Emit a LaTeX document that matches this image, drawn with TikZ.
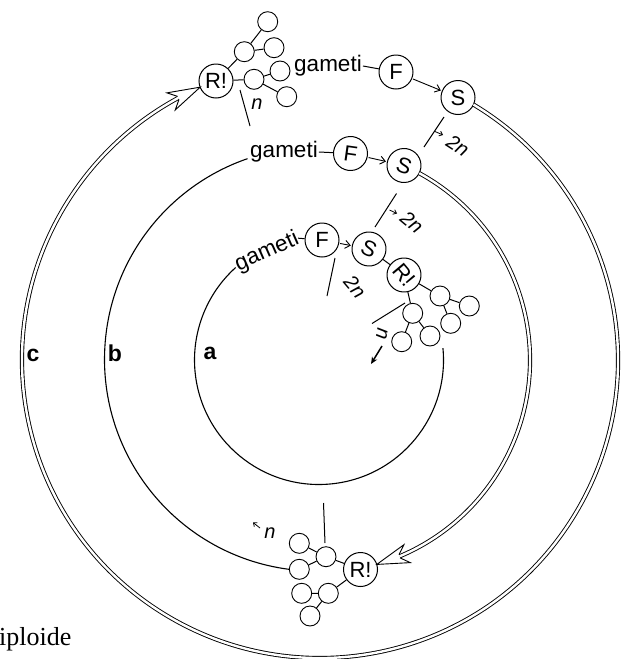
\documentclass[tikz,border=0pt]{standalone}
\usepackage{fontspec}
\setmainfont{Liberation Sans}
\newfontfamily\serifface{Liberation Serif}
\usetikzlibrary{calc,arrows.meta}
\newcommand\fsz[1]{\fontsize{#1}{#1}\selectfont}
% open arrow head at the end of a double (diploid) arc:
% #1 centre of the arc, #2 radius, #3 angle where the double line stops, #4 angle of the tip
\newcommand\hollowhead[4]{%
  \pgfmathsetmacro\hhrot{-((#3+#4)/2+90)}%
  \pgfmathsetmacro\hhlen{2*#2*sin(abs(#4-#3)/2)}%
  \begin{scope}[shift={($(#1)+(#4:#2)$)}, rotate=\hhrot]
    \fill[white] (0,0) -- (-\hhlen-8,-9.5) -- (-\hhlen,-1.65) -- (-\hhlen,1.65) -- (-\hhlen-8,9.5) -- cycle;
    \draw[line width=0.9pt, line join=miter] (-\hhlen,-1.65) -- (-\hhlen-8,-9.5) -- (0,0) -- (-\hhlen-8,9.5) -- (-\hhlen,1.65);
  \end{scope}}
\begin{document}
\begin{tikzpicture}[x=1pt,y=-1pt,
  ring/.style={line width=1.1pt},
  diplo/.style={double, double distance=2.4pt, line width=0.9pt},
  big/.style={circle, draw, line width=1pt, minimum size=34pt, inner sep=0pt, font=\fsz{22}},
  leaf/.style={circle, draw, line width=0.9pt, minimum size=20pt, inner sep=0pt},
  word/.style={font=\fsz{22.5}, inner sep=1pt},
  ploidy/.style={font=\fsz{20}\itshape, inner sep=0pt},
  bar/.style={line width=1pt},
  link/.style={line width=1pt},
  flow/.style={line width=0.9pt, -{Straight Barb[length=5pt,width=8pt]}, shorten <=1pt, shorten >=1pt},
  tick/.style={line width=0.8pt, -{Straight Barb[length=3pt,width=5pt]}},
  ringname/.style={font=\fsz{23}\bfseries, inner sep=0pt},
]
\useasboundingbox (0,0) rectangle (626,659);

% centres of the three cycles
\coordinate (Oc) at (320,360);
\coordinate (Ob) at (317,360);
\coordinate (Oa) at (319,360);

% ---- cycle c ----
\node[big] (Rc) at (216,81) {R!};
\node[big] (Fc) at (396,72) {F};
\node[big] (Sc) at (458,97.5) {S};
\node[word] (gc) at (328,66) {gameti};
\node[leaf] (c1) at (244.3,51.7) {};
\node[leaf] (c2) at (267.7,21.7) {};
\node[leaf] (c3) at (274,47.7) {};
\node[leaf] (c4) at (254,79.3) {};
\node[leaf] (c5) at (280,71) {};
\node[leaf] (c6) at (286.7,96.7) {};
\draw[link] (Rc) -- (c1) (c1) -- (c2) (c1) -- (c3)
            (Rc) -- (c4) (c4) -- (c5) (c4) -- (c6);
\draw[link] (gc.east) -- (Fc);
\draw[flow] (Fc) -- (Sc);
\draw[diplo] ($(Oc)+(-59:298)$) arc[start angle=-59, end angle=241.6, radius=298];
\hollowhead{Oc}{298}{241.6}{246.3}

% ---- cycle b ----
\node[big, rotate=-8] (Fb) at (350.5,153.5) {F};
\node[big, rotate=-20] (Sb) at (404,165.5) {S};
\node[word] (gb) at (284,152) {gameti};
\node[big] (Rb) at (360.5,569.5) {R!};
\node[leaf] (e1) at (326,556.7) {};
\node[leaf] (e2) at (299.3,543.3) {};
\node[leaf] (e3) at (299.3,569.3) {};
\node[leaf] (e4) at (328.3,593.3) {};
\node[leaf] (e5) at (301.7,593.3) {};
\node[leaf] (e6) at (310,616) {};
\draw[link] (Rb) -- (e1) (e1) -- (e2) (e1) -- (e3)
            (Rb) -- (e4) (e4) -- (e5) (e4) -- (e6);
\draw[link] (gb.east) -- (Fb);
\draw[flow] (Fb) -- (Sb);
\draw[diplo] ($(Ob)+(-61.3:213)$) arc[start angle=-61.3, end angle=67.2, radius=213];
\hollowhead{Ob}{213}{67.2}{73.7}
\draw[ring] (e3.west) arc[start angle=97.5, end angle=251, radius=212];

% ---- cycle a ----
\node[big] (Fa) at (322,240) {F};
\node[big, rotate=-25] (Sa) at (369,249) {S};
\node[big, rotate=-50] (Ra) at (404,275) {R!};
\node[word, rotate=24, inner sep=0pt] (ga) at (267,252) {gameti};
\node[leaf] (d1) at (412.7,313.3) {};
\node[leaf] (d2) at (401.7,341.7) {};
\node[leaf] (d3) at (430,336) {};
\node[leaf] (d4) at (440,296) {};
\node[leaf] (d5) at (469.3,306) {};
\node[leaf] (d6) at (450.7,323.3) {};
\draw[link] (Ra) -- (d1) (d1) -- (d2) (d1) -- (d3)
            (Ra) -- (d4) (d4) -- (d5) (d4) -- (d6);
\draw[link] (ga.east) -- (Fa);
\draw[flow] (Fa) -- (Sa);
\draw[link] (Sa) -- (Ra);
\coordinate (a0) at ($(Oa)+(-5.5:124.5)$);
\draw[ring] (a0) arc[start angle=-5.5, end angle=228, radius=124.5];

% ---- ploidy boundaries ----
\coordinate (t1) at (240,90);   \coordinate (t2) at (250,126);
\draw[bar] (t1) -- (t2);
\node[ploidy] (nt) at (257,104) {n};
\coordinate (u1) at (444,117);  \coordinate (u2) at (424,147);
\draw[bar] (u1) -- (u2);
\coordinate (u3) at (435,131.5); \coordinate (u4) at (443,135);
\draw[tick] (u3) -- (u4);
\node[ploidy, rotate=-33] (nu) at (458,146) {2n};
\coordinate (v1) at (396.5,193.5); \coordinate (v2) at (375,227);
\draw[bar] (v1) -- (v2);
\coordinate (v3) at (389.5,210); \coordinate (v4) at (397,213.5);
\draw[tick] (v3) -- (v4);
\node[ploidy, rotate=-40] (nv) at (412,222) {2n};
\coordinate (w1) at (335,258);  \coordinate (w2) at (327,296);
\draw[bar] (w1) -- (w2);
\node[ploidy, rotate=-50] (nw) at (355,287) {2n};
\coordinate (x1) at (372,323.5); \coordinate (x2) at (405,303);
\draw[bar] (x1) -- (x2);
\node[ploidy, rotate=-100] (nx) at (382,334) {n};
\coordinate (x3) at (382,346); \coordinate (x4) at (371,364);
\draw[line width=1.5pt, -{Stealth[length=7pt,width=6pt]}] (x3) -- (x4);
\coordinate (y1) at (323.5,503); \coordinate (y2) at (325,543);
\draw[bar] (y1) -- (y2);
\coordinate (y3) at (260,528); \coordinate (y4) at (253,522.5);
\draw[tick] (y3) -- (y4);
\node[ploidy] (ny) at (270,533) {n};

% ---- ring names ----
\node[ringname] (lc) at (33,355) {c};
\node[ringname] (lb) at (115,353) {b};
\node[ringname] (la) at (210,353) {a};

\node[font=\serifface\fsz{26}, anchor=base west, inner sep=0pt] (ip) at (-1,645) {iploide};
\end{tikzpicture}
\end{document}
